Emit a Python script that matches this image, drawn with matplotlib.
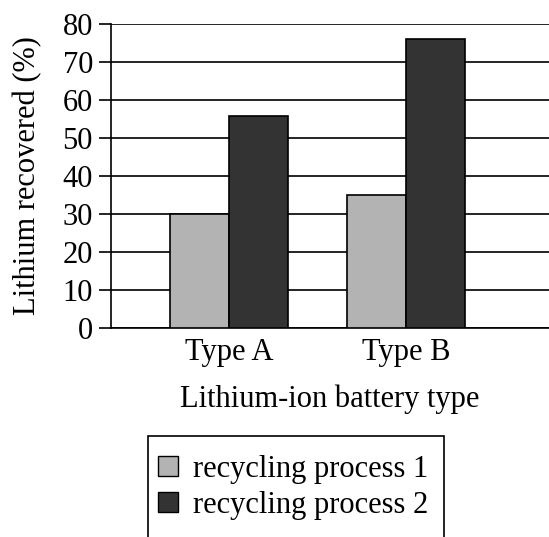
import numpy as np
import matplotlib
matplotlib.use("Agg")
import matplotlib.pyplot as plt
from matplotlib.patches import Rectangle

# -------------------------------
# Data
# -------------------------------
battery_types = ["Type A", "Type B"]
process_1 = [30, 35]
process_2 = [55.7, 76]
series_labels = ["recycling process 1", "recycling process 2"]
y_ticks = [0, 10, 20, 30, 40, 50, 60, 70, 80]

plt.rcParams["font.family"] = ["Liberation Serif", "DejaVu Serif"]
FS = 22

fig = plt.figure(figsize=(5.49, 5.37), dpi=100)
ax = fig.add_axes([111 / 549, 1 - 328 / 537, 1 - 111 / 549, (328 - 24) / 537])

x = np.arange(len(battery_types))
width = 0.333
ax.bar(x - width / 2, process_1, width, color="#b3b3b3", edgecolor="black",
       linewidth=1.2, label=series_labels[0], zorder=3)
ax.bar(x + width / 2, process_2, width, color="#333333", edgecolor="black",
       linewidth=1.2, label=series_labels[1], zorder=3)

ax.set_xlim(-0.667, 1.808)
ax.set_ylim(0, 80)
ax.set_yticks(y_ticks)
ax.set_xticks(x)
ax.set_xticklabels(battery_types)
ax.tick_params(axis="y", length=9, width=1.2, labelsize=FS, pad=4)
ax.tick_params(axis="x", length=0, labelsize=FS, pad=7)

ax.yaxis.grid(True, color="black", linewidth=1.2, zorder=0)
ax.set_axisbelow(True)
for side in ["top", "right"]:
    ax.spines[side].set_visible(False)
ax.spines["left"].set_linewidth(1.2)
ax.spines["bottom"].set_linewidth(1.2)

ax.set_ylabel("Lithium recovered (%)", fontsize=FS, labelpad=15)
ax.set_xlabel("Lithium-ion battery type", fontsize=FS, labelpad=13)

# -------------------------------
# Legend (box runs off the bottom edge)
# -------------------------------
leg = fig.legend(loc="upper left", bbox_to_anchor=(158 / 549, 1 - 455 / 537),
                 fontsize=FS, frameon=False,
                 handlelength=0.65, handleheight=0.65, handletextpad=0.5,
                 borderpad=0, labelspacing=0.23, borderaxespad=0)
for h in leg.legend_handles:
    h.set_linewidth(1.0)
box = Rectangle((148 / 549, -0.1), (444 - 148) / 549, 1 - 436 / 537 + 0.1,
                transform=fig.transFigure, fill=False, edgecolor="black",
                linewidth=1.2)
fig.patches.append(box)

fig.savefig("out.png", dpi=100)
